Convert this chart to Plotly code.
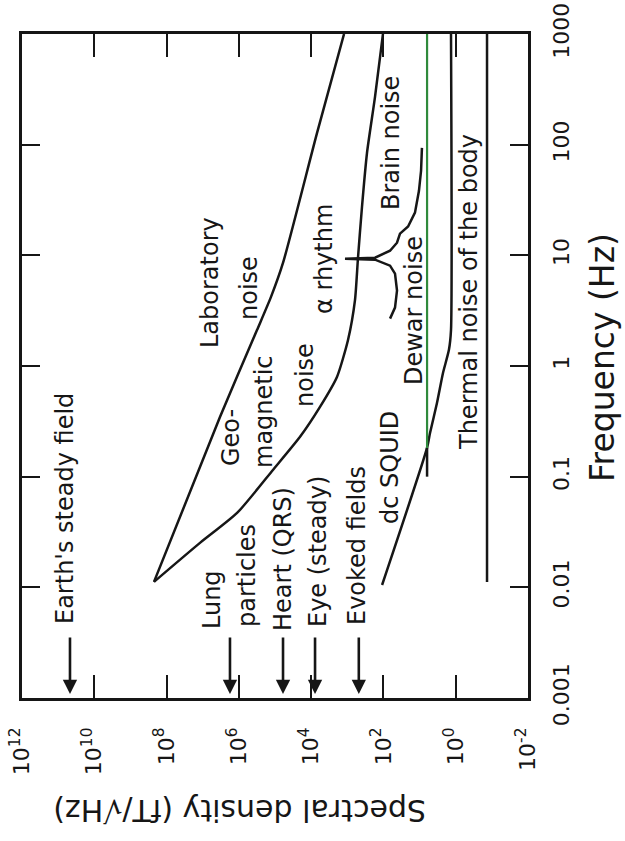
import numpy as np
import plotly.graph_objects as go

# ---------------- data ----------------
density_ticks = [1e12, 1e10, 1e8, 1e6, 1e4, 1e2, 1e0, 1e-2]
density_tick_labels = ["10<sup>12</sup>", "10<sup>10</sup>", "10<sup>8</sup>", "10<sup>6</sup>",
                       "10<sup>4</sup>", "10<sup>2</sup>", "10<sup>0</sup>", "10<sup>-2</sup>"]
freq_ticks = [0.001, 0.01, 0.1, 1, 10, 100, 1000]
freq_tick_labels = ["0.001", "0.01", "0.1", "1", "10", "100", "1000"]

# Laboratory noise (upper branch)
lab_freq = [0.0112, 0.346, 2.11, 4.21, 8.53, 127, 1000]
lab_density = [2.23e8, 3.33e6, 3.15e5, 1.29e5, 6.01e4, 6.89e3, 1.23e3]

# Geomagnetic noise (lower branch)
geo_freq = [0.0112, 0.0252, 0.0470, 0.115, 0.229, 0.427, 0.796, 1.72, 3.94, 9.46, 27.4, 84.1, 270, 1000]
geo_density = [2.23e8, 1.19e7, 1.12e6, 1.14e5, 2.03e4, 5.69e3, 1.93e3, 955, 612, 506, 392, 285, 171, 103]

# Brain noise with alpha rhythm peak
brain_freq = [2.68, 3.37, 4.80, 6.84, 8.07, 9.14, 9.33, 9.53, 11.0, 13.0, 15.7, 18.2, 24.3, 38.3, 58.1, 93.5]
brain_density = [65.6, 47.8, 42.1, 47.8, 65.6, 171, 1156, 171, 65.6, 42.1, 34.8, 20.8, 13.4, 10.4, 9.1, 8.6]

# dc SQUID noise
squid_freq = [0.0105, 0.182, 0.248, 0.463, 0.865, 1.40, 2.11, 1000]
squid_density = [109, 6.22, 5.14, 3.30, 2.25, 1.54, 1.35, 1.35]

# Dewar noise
dewar_level = 6.2
dewar_freq_low = [0.1, 0.182]
dewar_freq_high = [0.182, 1000]

# Thermal noise of the body
thermal_level = 0.136
thermal_freq = [0.0112, 1000]

# Signal sources (arrows)
source_levels = [4.7e10, 1.76e6, 6.0e4, 7.8e3, 480]

# ---------------- layout helpers ----------------
W, H = 625, 841
L, R, T, B = 22, 528, 34, 698
PW, PH = R - L, B - T


def pxx(px):
    return (px - L) / PW


def pxy(py):
    return (B - py) / PH


FONT = "DejaVu Sans, Arial, sans-serif"
INK = "#161616"
LW = 2.5

fig = go.Figure()


def add_line(x, y, color=INK, shape="linear", width=LW):
    fig.add_trace(go.Scatter(x=x, y=y, mode="lines",
                             line=dict(color=color, width=width, shape=shape, smoothing=0.6),
                             showlegend=False, hoverinfo="skip"))


add_line(lab_density, lab_freq, shape="spline")
add_line(geo_density, geo_freq, shape="spline")
add_line(brain_density, brain_freq)
add_line(squid_density, squid_freq, shape="spline")
add_line([dewar_level] * len(dewar_freq_low), dewar_freq_low)
add_line([dewar_level] * len(dewar_freq_high), dewar_freq_high, color="#2f8a3c", width=2.2)
add_line([thermal_level] * len(thermal_freq), thermal_freq)

annotations = []

# arrows for signal sources
for v in source_levels:
    annotations.append(dict(x=np.log10(v), y=pxy(694), xref="x", yref="paper",
                            ax=0, ay=-58, text="", showarrow=True,
                            arrowhead=2, arrowsize=1.1, arrowwidth=2.6, arrowcolor=INK))

# rotated labels: (text, center px x, center px y)
labels = [
    ("Earth's steady field", 65, 509),
    ("Lung", 212, 600),
    ("particles", 247, 576),
    ("Heart (QRS)", 283, 559),
    ("Eye (steady)", 318, 552),
    ("Evoked fields", 357, 546),
    ("dc SQUID", 390, 468),
    ("Thermal noise of the body", 469, 292),
    ("Dewar noise", 414, 311),
    ("Brain noise", 391, 143),
    ("\u03b1 rhythm", 324, 259),
    ("Laboratory", 210, 283),
    ("noise", 249, 288),
    ("Geo-", 231, 438),
    ("magnetic", 264, 412),
    ("noise", 305, 375),
]
for txt, x, y in labels:
    annotations.append(dict(text=txt, x=pxx(x), y=pxy(y), xref="paper", yref="paper",
                            textangle=-90, showarrow=False, xanchor="center", yanchor="middle",
                            font=dict(family=FONT, size=24, color=INK)))

# axis titles
annotations.append(dict(text="Frequency (Hz)", x=pxx(602), y=pxy(358), xref="paper", yref="paper",
                        textangle=-90, showarrow=False, xanchor="center", yanchor="middle",
                        font=dict(family=FONT, size=33, color=INK)))
annotations.append(dict(text="Spectral density (fT/\u221aHz)", x=pxx(240), y=pxy(811),
                        xref="paper", yref="paper",
                        textangle=180, showarrow=False, xanchor="center", yanchor="middle",
                        font=dict(family=FONT, size=30, color=INK)))

fig.update_layout(
    width=W, height=H,
    margin=dict(l=L, r=W - R, t=T, b=H - B, pad=0, autoexpand=False),
    paper_bgcolor="white", plot_bgcolor="white",
    annotations=annotations,
    xaxis=dict(type="log", range=[12, -2], tickvals=density_ticks, ticktext=density_tick_labels,
               ticks="inside", ticklen=23, tickwidth=2, tickcolor=INK,
               showline=True, linewidth=LW, linecolor=INK, mirror="ticks", automargin=False,
               showgrid=False, zeroline=False, tickangle=-90, ticklabelstandoff=18,
               tickfont=dict(family=FONT, size=22, color=INK)),
    yaxis=dict(type="log", range=[-3, 3], side="right", tickvals=freq_ticks, ticktext=freq_tick_labels,
               ticks="inside", ticklen=18, tickwidth=2, tickcolor=INK,
               showline=True, linewidth=LW, linecolor=INK, mirror="ticks", automargin=False,
               showgrid=False, zeroline=False, tickangle=-90, ticklabelstandoff=12,
               tickfont=dict(family=FONT, size=22, color=INK)),
)

fig.write_html("out.html", config={"displayModeBar": False},
               post_script="document.body.style.margin='0';document.body.style.overflow='hidden';")
